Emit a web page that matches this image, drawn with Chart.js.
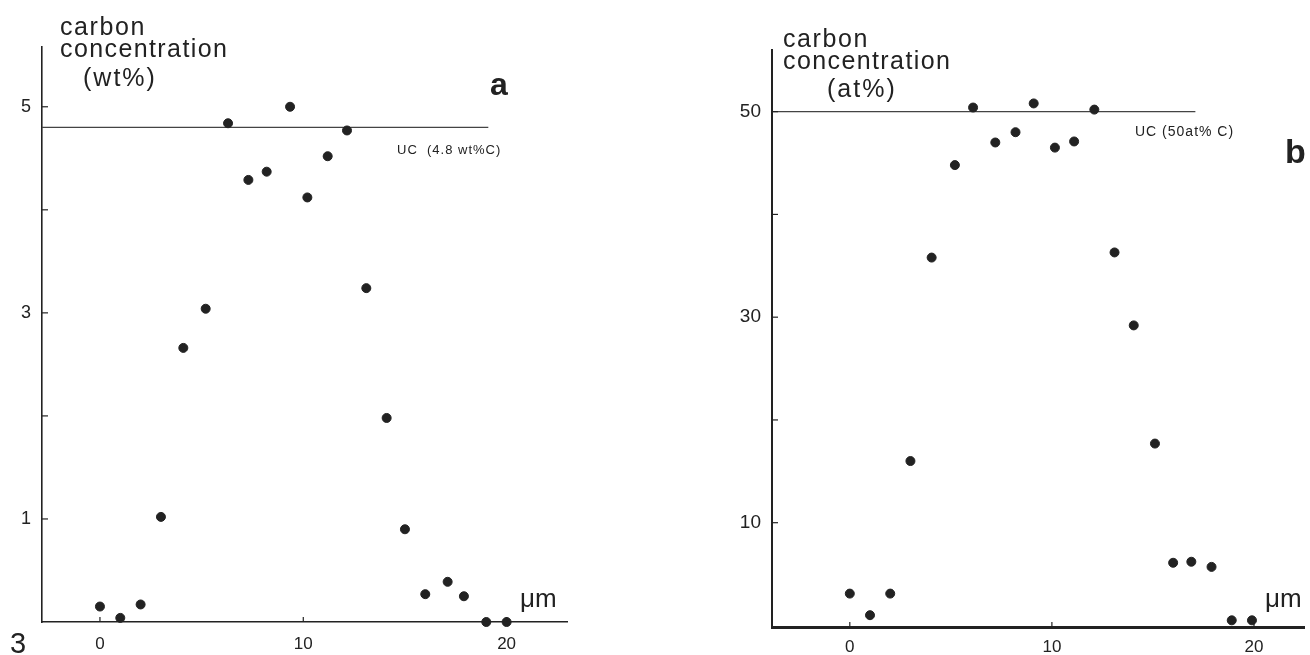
<!DOCTYPE html>
<html>
<head>
<meta charset="utf-8">
<script src="https://cdn.jsdelivr.net/npm/chart.js@4.4.1/dist/chart.umd.min.js"></script>
<style>
  body { margin: 0; background: #fff; }
  .panel { position: absolute; top: 0; width: 655px; height: 655px; }
</style>
</head>
<body>
<div class="panel" style="left:0"><canvas id="chartA" width="655" height="655"></canvas></div>
<div class="panel" style="left:655px"><canvas id="chartB" width="655" height="655"></canvas></div>
<script>
// Datos panel a (wt%)
const distA = [0, 1, 2, 3, 4.1, 5.2, 6.3, 7.3, 8.2, 9.35, 10.2, 11.2, 12.15, 13.1, 14.1, 15, 16, 17.1, 17.9, 19, 20];
const carbonWt = [0.15, 0.04, 0.17, 1.02, 2.66, 3.04, 4.84, 4.29, 4.37, 5.0, 4.12, 4.52, 4.77, 3.24, 1.98, 0.9, 0.27, 0.39, 0.25, 0, 0];
const ucWt = 4.8;
const ucEndA = 19.1;

// Datos panel b (at%)
const distB = [0, 1, 2, 3, 4.05, 5.2, 6.1, 7.2, 8.2, 9.1, 10.15, 11.1, 12.1, 13.1, 14.05, 15.1, 16, 16.9, 17.9, 18.9, 19.9];
const carbonAt = [3.1, 1.0, 3.1, 16.0, 35.8, 44.8, 50.4, 47.0, 48.0, 50.8, 46.5, 47.1, 50.2, 36.3, 29.2, 17.7, 6.1, 6.2, 5.7, 0.5, 0.5];
const ucAt = 50;
const ucEndB = 17.1;

const xTicks = [0, 10, 20];
const labelsA = [1, 3, 5];
const labelsB = [10, 30, 50];

const FONT = "'Liberation Sans', Arial, sans-serif";
const INK = "#222";

// marcas cortas de los ejes, hacia dentro
const tickMarks = {
    id: "tickMarks",
    afterDatasetsDraw(chart) {
        const { ctx, scales: { x, y } } = chart;
        ctx.save();
        ctx.strokeStyle = INK;
        ctx.lineWidth = 1.2;
        y.ticks.forEach(t => {
            const py = y.getPixelForValue(t.value);
            ctx.beginPath();
            ctx.moveTo(y.right, py);
            ctx.lineTo(y.right + 6, py);
            ctx.stroke();
        });
        xTicks.forEach(v => {
            const px = x.getPixelForValue(v);
            ctx.beginPath();
            ctx.moveTo(px, x.top);
            ctx.lineTo(px, x.top - 5);
            ctx.stroke();
        });
        ctx.restore();
    }
};

// textos sueltos
function textPlugin(items) {
    return {
        id: "texts",
        afterDraw(chart) {
            const ctx = chart.ctx;
            ctx.save();
            ctx.fillStyle = INK;
            ctx.textBaseline = "alphabetic";
            items.forEach(it => {
                ctx.font = it.font;
                ctx.letterSpacing = it.ls || "0px";
                ctx.textAlign = it.align || "left";
                ctx.fillText(it.text, it.x, it.y);
            });
            ctx.restore();
        }
    };
}

function makeChart(id, cfg) {
    return new Chart(document.getElementById(id), {
        type: "scatter",
        data: {
            datasets: [{
                data: cfg.xs.map((v, i) => ({ x: v, y: cfg.ys[i] })),
                backgroundColor: INK,
                borderColor: INK,
                pointRadius: 4.5,
                pointHoverRadius: 4.5,
                clip: false
            }, {
                type: "line",
                data: [{ x: cfg.xMin, y: cfg.uc }, { x: cfg.ucEnd, y: cfg.uc }],
                borderColor: "#444",
                borderWidth: 1.2,
                pointRadius: 0,
                fill: false
            }]
        },
        options: {
            responsive: false,
            animation: false,
            layout: { padding: cfg.padding },
            plugins: { legend: { display: false }, tooltip: { enabled: false } },
            scales: {
                x: {
                    type: "linear",
                    min: cfg.xMin,
                    max: cfg.xMax,
                    afterBuildTicks: s => { s.ticks = xTicks.map(v => ({ value: v })); },
                    afterFit: s => { s.height = cfg.xHeight; },
                    grid: { display: false },
                    border: { display: true, color: INK, width: cfg.xBorder },
                    ticks: { padding: cfg.xPad, color: INK, font: { family: FONT, size: 17 } }
                },
                y: {
                    min: cfg.yMin,
                    max: cfg.yMax,
                    afterBuildTicks: s => { s.ticks = cfg.yTicks.map(v => ({ value: v })); },
                    afterFit: s => { s.width = cfg.yWidth; },
                    grid: { display: false },
                    border: { display: true, color: INK, width: cfg.yBorder },
                    ticks: {
                        padding: 3,
                        color: INK,
                        font: { family: FONT, size: cfg.yFont },
                        callback: v => cfg.yLabels.includes(v) ? String(v) : ""
                    }
                }
            }
        },
        plugins: [tickMarks, textPlugin(cfg.texts)]
    });
}

makeChart("chartA", {
    xs: distA, ys: carbonWt, uc: ucWt, ucEnd: ucEndA,
    xMin: -2.85, xMax: 22.97, yMin: 0, yMax: 5.58,
    yTicks: [1, 2, 3, 4, 5], yLabels: labelsA,
    padding: { top: 47, right: 88, bottom: 0, left: 0 },
    xHeight: 33, yWidth: 42, xPad: 4, yFont: 18, xBorder: 1.6, yBorder: 1.6,
    texts: [
        { text: "carbon", x: 60, y: 35, font: "25px " + FONT, ls: "1.6px" },
        { text: "concentration", x: 60, y: 57, font: "25px " + FONT, ls: "1.4px" },
        { text: "(wt%)", x: 83, y: 86, font: "25px " + FONT, ls: "2px" },
        { text: "a", x: 490, y: 95, font: "bold 32px " + FONT },
        { text: "UC  (4.8 wt%C)", x: 397, y: 154, font: "13px " + FONT, ls: "1px" },
        { text: "\u03bcm", x: 520, y: 607, font: "26px " + FONT },
        { text: "3", x: 10, y: 653, font: "29px " + FONT }
    ]
});

makeChart("chartB", {
    xs: distB, ys: carbonAt, uc: ucAt, ucEnd: ucEndB,
    xMin: -3.85, xMax: 22.5, yMin: -0.15, yMax: 56,
    yTicks: [10, 20, 30, 40, 50], yLabels: labelsB,
    padding: { top: 50, right: 3, bottom: 0, left: 0 },
    xHeight: 28, yWidth: 117, xPad: 2, yFont: 19, xBorder: 3, yBorder: 2,
    texts: [
        { text: "carbon", x: 128, y: 47, font: "25px " + FONT, ls: "1.6px" },
        { text: "concentration", x: 128, y: 69, font: "25px " + FONT, ls: "1.4px" },
        { text: "(at%)", x: 172, y: 97, font: "25px " + FONT, ls: "2px" },
        { text: "b", x: 630, y: 163, font: "bold 34px " + FONT },
        { text: "UC (50at% C)", x: 480, y: 136, font: "14px " + FONT, ls: "1px" },
        { text: "\u03bcm", x: 610, y: 607, font: "26px " + FONT }
    ]
});
</script>
</body>
</html>
